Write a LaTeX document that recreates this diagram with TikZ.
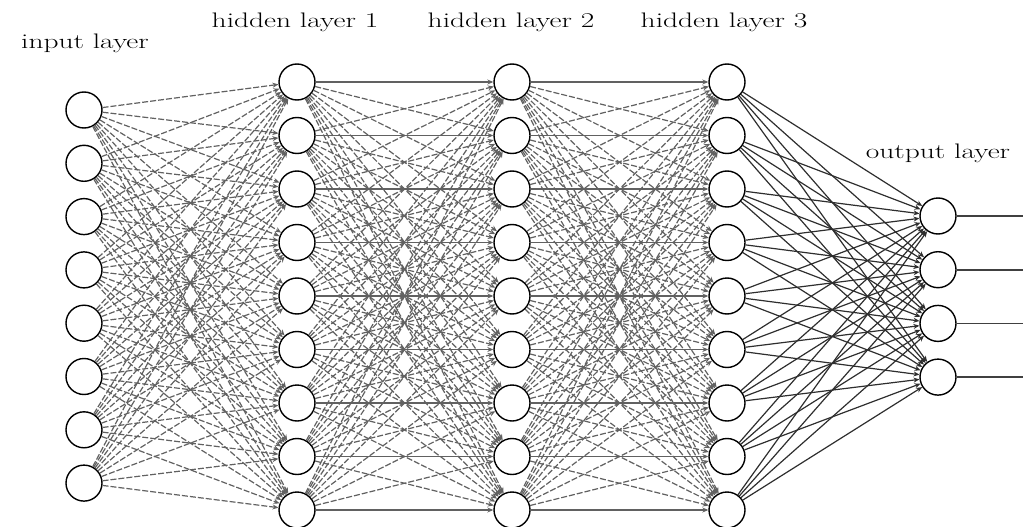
\documentclass[tikz,border=0pt]{standalone}
\usepackage{graphicx}
\usepackage{tikz}
\usetikzlibrary{arrows.meta}
\tikzset{
  neuron/.style={circle,draw,line width=1.4pt,fill=white,minimum size=36pt,inner sep=0pt},
  dedge/.style={-{Stealth[length=6pt,width=5pt]},draw=black!62,line width=1.2pt,dash pattern=on 6pt off 2pt},
  hedge/.style={-{Stealth[length=6pt,width=5pt]},draw=black!62,line width=1.2pt},
  sedge/.style={-{Stealth[length=6pt,width=5pt]},draw=black!82,line width=1.2pt},
  oedge/.style={draw=black!75,line width=1.6pt},
  lbl/.style={font=\fontsize{21}{24}\selectfont,inner sep=0pt}
}
\newcommand{\widetext}[1]{\scalebox{1.4}[1]{#1}}

\begin{document}
\begin{tikzpicture}[x=1pt,y=-1pt]
\useasboundingbox (0,0) rectangle (1023,527);
% neurons
\foreach \i in {1,...,8} \node[neuron] (I\i) at (84,{110+53.3*(\i-1)}) {};
\foreach \l/\x in {A/297,B/512,C/727}
  \foreach \j in {1,...,9} \node[neuron] (\l\j) at (\x,{82+53.5*(\j-1)}) {};
\foreach \k in {1,...,4} {
  \node[neuron] (O\k) at (938,{216+53.7*(\k-1)}) {};
  \coordinate (E\k) at (1023,{216+53.7*(\k-1)});
}
% layer titles
\node[lbl] (tI) at (85,43) {\widetext{input layer}};
\node[lbl] (tA) at (295,22) {\widetext{hidden layer 1}};
\node[lbl] (tB) at (511,22) {\widetext{hidden layer 2}};
\node[lbl] (tC) at (724,22) {\widetext{hidden layer 3}};
\node[lbl] (tO) at (938,153) {\widetext{output layer}};
% connections
\foreach \i in {1,...,8} \foreach \j in {1,...,9} \draw[dedge] (I\i) -- (A\j);
\foreach \p/\q in {A/B,B/C} \foreach \i in {1,...,9} \foreach \j in {1,...,9} {
  \ifnum\i=\j \draw[hedge] (\p\i) -- (\q\j); \else \draw[dedge] (\p\i) -- (\q\j); \fi
}
\foreach \i in {1,...,9} \foreach \k in {1,...,4} \draw[sedge] (C\i) -- (O\k);
\foreach \k in {1,...,4} \draw[oedge] (O\k) -- (E\k);
\end{tikzpicture}
\end{document}
